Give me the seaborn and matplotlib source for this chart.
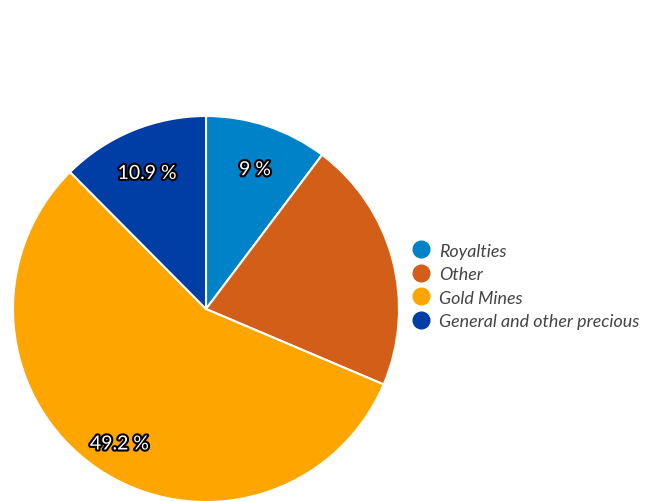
import matplotlib
matplotlib.use("Agg")
import matplotlib.pyplot as plt
import matplotlib.patheffects as pe
from matplotlib.lines import Line2D
import seaborn as sns

categories = ["Royalties", "Other", "Gold Mines", "General and other precious"]
values = [9.0, 18.5, 49.2, 10.9]
slice_labels = ["9 %", "", "49.2 %", "10.9 %"]
colors = ["#0082C8", "#D35E18", "#FFA500", "#003DA5"]

sns.set_theme(style="white")
plt.rcParams["font.family"] = ["Lato", "DejaVu Sans"]

fig = plt.figure(figsize=(6.55, 5.02), dpi=100)
ax = fig.add_axes([13 / 655, -1 / 502, 386 / 655, 386 / 502])
palette = sns.color_palette(colors)

wedges, texts = ax.pie(
    values,
    colors=palette,
    startangle=90,
    counterclock=False,
    radius=1.0,
    labels=slice_labels,
    labeldistance=0.8,
    wedgeprops=dict(edgecolor="white", linewidth=1.5),
    textprops=dict(color="white", fontsize=14),
)
for t in texts:
    t.set_path_effects([pe.withStroke(linewidth=3, foreground="black")])
    t.set_ha("center")
    t.set_va("center")
    x, y = t.get_position()
    t.set_position((x, y - 0.037))
ax.set_xlim(-1, 1)
ax.set_ylim(-1, 1)

handles = [Line2D([0], [0], marker="o", linestyle="", markersize=12,
                  markerfacecolor=c, markeredgecolor=c) for c in palette]
leg = fig.legend(handles, categories, loc="center left",
                 bbox_to_anchor=(405 / 655, 1 - 287 / 502),
                 frameon=False, handletextpad=0.5, labelspacing=0.42,
                 handlelength=1.0, borderaxespad=0,
                 prop=dict(family="Lato", style="italic", size=12.9))
for t in leg.get_texts():
    t.set_color("#444444")

fig.savefig("out.png", dpi=100)
